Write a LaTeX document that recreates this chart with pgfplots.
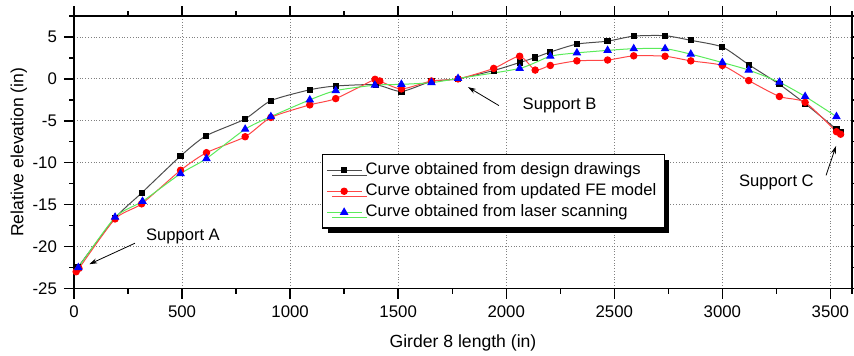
\documentclass[border=0pt]{standalone}
\usepackage{pgfplots}
\pgfplotsset{compat=1.18}
\usepackage{fontspec}
\setmainfont{Liberation Sans}
\usetikzlibrary{shadows,arrows.meta}
\definecolor{lred}{RGB}{255,70,70}
\definecolor{lgreen}{RGB}{90,235,90}
\begin{document}
\begin{tikzpicture}
\begin{axis}[
  name=ax,
  scale only axis, width=389pt, height=136.25pt,
  xmin=0, xmax=3600, ymin=-25, ymax=7.5,
  xtick={0,500,...,3500}, ytick={-25,-20,...,5},
  minor xtick={250,750,...,3250,3600},
  minor ytick={-22.5,-17.5,...,7.5},
  tick align=outside, major tick length=5pt, minor tick length=2.5pt,
  xtick pos=both, ytick pos=both,
  xticklabel pos=bottom, yticklabel pos=left,
  axis line style={line width=0.8pt}, every tick/.style={line width=0.7pt, black},
  grid=major, major grid style={densely dotted, gray, line width=0.4pt},
  /pgf/number format/assume math mode=true,
  /pgf/number format/1000 sep={},
  tick label style={font=\fontsize{8.4}{10}\selectfont},
  label style={font=\fontsize{8.8}{10}\selectfont},
  xlabel={Girder 8 length (in)}, ylabel={Relative elevation (in)},
  xlabel style={yshift=-2pt},
  ylabel style={yshift=-4pt},
  legend style={at={(axis cs:1147,-8.96)}, anchor=north west, draw=black, line width=0.7pt,
    font=\fontsize{8.3}{10}\selectfont, fill=white,
    drop shadow={shadow xshift=2.5pt, shadow yshift=-2.5pt, fill=black, opacity=1},
    row sep=-1pt, inner sep=2pt},
  legend cell align=left,
  clip=false,
]
\addplot[gray!60!black, line width=0.5pt, smooth, tension=0.4, mark=square*, mark size=1.3pt, mark options={black, solid}] coordinates {
(20,-22.4)(190,-16.6)(313,-13.6)(493,-9.2)(610,-6.8)(790,-4.8)(911,-2.6)(1091,-1.3)(1211,-0.85)(1396,-0.7)(1515,-1.5)(1654,-0.3)(1777,0)(1942,1.0)(2062,1.95)(2134,2.55)(2204,3.2)(2327,4.15)(2469,4.5)(2590,5.1)(2735,5.15)(2854,4.6)(3000,3.8)(3122,1.7)(3264,-0.65)(3383,-2.95)(3528,-6.0)(3549,-6.4)};
\addlegendentry{Curve obtained from design drawings}
\addplot[lred, line width=0.5pt, smooth, tension=0.4, mark=*, mark size=1.6pt, mark options={red, solid}] coordinates {
(10,-23.0)(23,-22.6)(190,-16.7)(313,-14.9)(493,-10.9)(613,-8.8)(792,-6.9)(911,-4.6)(1091,-3.1)(1211,-2.35)(1393,-0.05)(1415,-0.25)(1515,-1.2)(1654,-0.25)(1777,0)(1942,1.25)(2062,2.7)(2134,1.05)(2204,1.6)(2327,2.15)(2469,2.25)(2590,2.75)(2735,2.7)(2854,2.15)(3000,1.6)(3122,-0.2)(3264,-2.1)(3383,-2.8)(3528,-6.3)(3547,-6.6)};
\addlegendentry{Curve obtained from updated FE model}
\addplot[lgreen, line width=0.5pt, smooth, tension=0.4, mark=triangle*, mark size=2pt, mark options={blue, solid}] coordinates {
(20,-22.5)(190,-16.5)(317,-14.6)(493,-11.3)(613,-9.5)(792,-6.0)(911,-4.5)(1091,-2.5)(1211,-1.4)(1392,-0.75)(1515,-0.65)(1654,-0.45)(1777,0.05)(2062,1.25)(2204,2.7)(2327,3.1)(2469,3.4)(2590,3.6)(2735,3.6)(2854,2.95)(3000,1.95)(3122,1.05)(3264,-0.4)(3383,-2.1)(3528,-4.5)};
\addlegendentry{Curve obtained from laser scanning}
\node[font=\fontsize{8.3}{10}\selectfont] at (axis cs:504,-18.75) {Support A};
\draw[-{Stealth[length=4pt,width=2.5pt]}, line width=0.4pt] (axis cs:282,-19.6) -- (axis cs:71,-22.1);
\node[font=\fontsize{8.3}{10}\selectfont] at (axis cs:2247,-3.2) {Support B};
\draw[-{Stealth[length=4pt,width=2.5pt]}, line width=0.4pt] (axis cs:1966,-3.18) -- (axis cs:1823,-0.98);
\node[font=\fontsize{8.3}{10}\selectfont] at (axis cs:3250,-12.4) {Support C};
\draw[-{Stealth[length=4pt,width=2.5pt]}, line width=0.4pt] (axis cs:3480,-11.5) -- (axis cs:3526,-8.0);
\end{axis}
\pgfresetboundingbox
\path[use as bounding box] ([shift={(-37pt,-33.25pt)}]ax.south west) rectangle ([shift={(1pt,8pt)}]ax.north east);
\end{tikzpicture}
\end{document}
